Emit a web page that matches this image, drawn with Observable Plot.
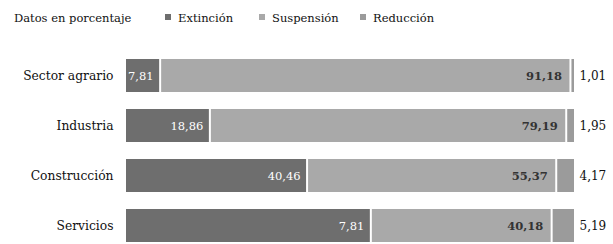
<!DOCTYPE html>
<html>
<head>
<meta charset="utf-8">
<script src="https://cdn.jsdelivr.net/npm/d3@7"></script>
<script src="https://cdn.jsdelivr.net/npm/@observablehq/plot@0.6"></script>
<style>
  html, body { margin: 0; padding: 0; background: #fff; overflow: hidden; }
  body { width: 613px; height: 244px; font-family: "DejaVu Serif", serif; color: #111; }
  #head { position: relative; height: 40px; font-size: 11.5px; }
  #head span { position: absolute; top: 11px; white-space: nowrap; }
  .sw { display: inline-block; width: 6px; height: 6px; margin-right: 7px; vertical-align: 2px; }
</style>
</head>
<body>
<div id="head"></div>
<div id="chart"></div>
<script>
const sectores = ["Sector agrario", "Industria", "Construcción", "Servicios"];
const tipos = ["Extinción", "Suspensión", "Reducción"];
const colores = ["#6e6e6e", "#a9a9a9", "#9b9b9b"];
const extincion = [7.81, 18.86, 40.46, 54.63];
const suspension = [91.18, 79.19, 55.37, 40.18];
const reduccion = [1.01, 1.95, 4.17, 5.19];
const etiquetasExtincion = ["7,81", "18,86", "40,46", "7,81"];
const subtitulo = "Datos en porcentaje";

const fmt = v => v.toFixed(2).replace(".", ",");

// legend
const head = document.getElementById("head");
const sub = document.createElement("span");
sub.style.left = "14px";
sub.textContent = subtitulo;
head.appendChild(sub);
const legendX = [165, 259, 360];
tipos.forEach((t, i) => {
  const s = document.createElement("span");
  s.style.left = legendX[i] + "px";
  const sw = document.createElement("i");
  sw.className = "sw";
  sw.style.background = colores[i];
  s.appendChild(sw);
  s.appendChild(document.createTextNode(t));
  head.appendChild(s);
});

const rows = sectores.flatMap((s, i) => [
  {sector: s, tipo: tipos[0], value: extincion[i], end: extincion[i], label: etiquetasExtincion[i]},
  {sector: s, tipo: tipos[1], value: suspension[i], end: extincion[i] + suspension[i], label: fmt(suspension[i])},
  {sector: s, tipo: tipos[2], value: reduccion[i], end: 100, label: fmt(reduccion[i])}
]);

const chart = Plot.plot({
  width: 613,
  height: 212,
  marginLeft: 125,
  marginRight: 38,
  marginTop: 9,
  marginBottom: 0,
  style: {fontFamily: "DejaVu Serif", fontSize: "11.5px", color: "#111", background: "#fff"},
  x: {domain: [0, 100], axis: null},
  y: {domain: sectores, paddingInner: 0.333, paddingOuter: 0.1667, label: null, axis: null},
  color: {domain: tipos, range: colores},
  marks: [
    Plot.barX(rows, Plot.stackX({x: "value", y: "sector", fill: "tipo", insetLeft: 1, insetRight: 1})),
    Plot.axisY({tickSize: 0, tickPadding: 12, fontSize: 12.3, fill: "#111"}),
    Plot.text(rows.filter(d => d.tipo === tipos[0]), {x: "end", y: "sector", text: "label", textAnchor: "end", dx: -7, fill: "white"}),
    Plot.text(rows.filter(d => d.tipo === tipos[1]), {x: "end", y: "sector", text: "label", textAnchor: "end", dx: -9, fill: "#333", fontWeight: "bold"}),
    Plot.text(rows.filter(d => d.tipo === tipos[2]), {x: "end", y: "sector", text: "label", textAnchor: "start", dx: 4, fill: "#111", fontSize: 12})
  ]
});
document.getElementById("chart").appendChild(chart);
</script>
</body>
</html>
